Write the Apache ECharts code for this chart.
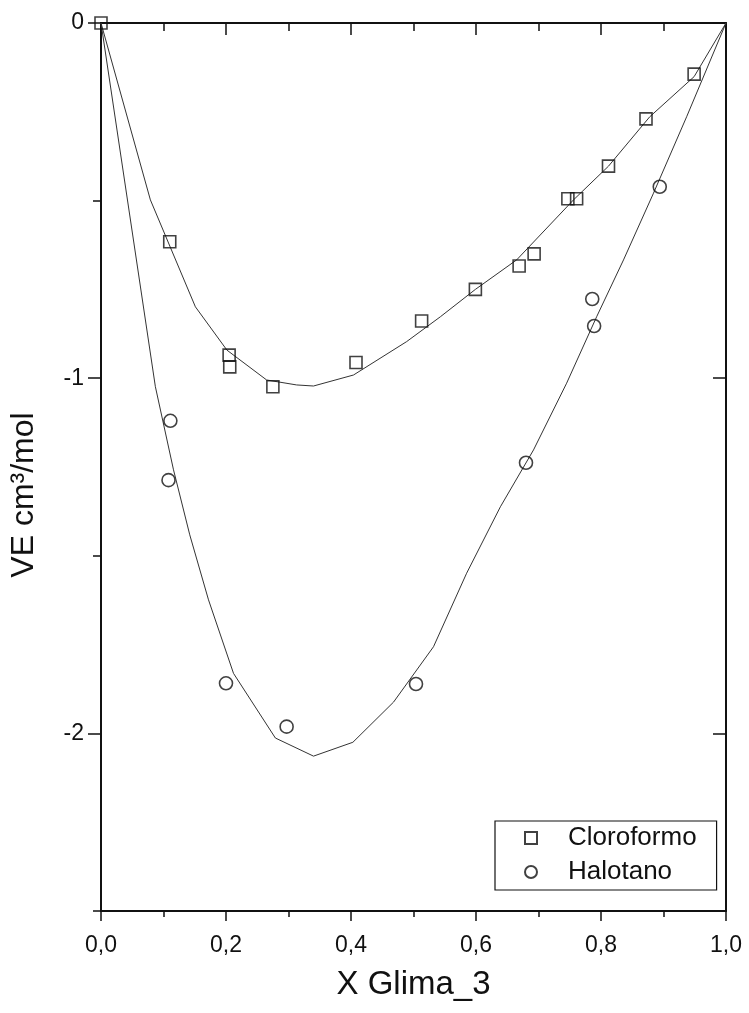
<!DOCTYPE html>
<html>
<head>
<meta charset="utf-8">
<script src="https://cdn.jsdelivr.net/npm/echarts@6/dist/echarts.min.js"></script>
<style>
  html, body { margin: 0; padding: 0; background: #fff; }
  #chart { width: 749px; height: 1013px; }
</style>
</head>
<body>
<div id="chart"></div>
<script>
// Measured excess molar volumes (VE, cm3/mol) vs mole fraction of Glima_3
const cloroformoX = [0, 0.110, 0.205, 0.206, 0.275, 0.408, 0.513, 0.599, 0.669, 0.693, 0.747, 0.761, 0.812, 0.872, 0.949];
const cloroformoY = [0, -0.616, -0.935, -0.968, -1.024, -0.956, -0.839, -0.750, -0.684, -0.650, -0.495, -0.495, -0.403, -0.270, -0.144];

const halotanoX = [0.111, 0.108, 0.200, 0.297, 0.504, 0.680, 0.786, 0.789, 0.894];
const halotanoY = [-1.120, -1.287, -1.859, -1.981, -1.861, -1.238, -0.777, -0.853, -0.461];

// Fitted curves (drawn as polylines)
const cloroformoFitX = [0, 0.079, 0.151, 0.2015, 0.265, 0.313, 0.340, 0.404, 0.489, 0.543, 0.599, 0.665, 0.756, 0.812, 0.878, 0.949, 1.0];
const cloroformoFitY = [0, -0.498, -0.799, -0.921, -1.005, -1.019, -1.022, -0.991, -0.897, -0.827, -0.750, -0.667, -0.498, -0.403, -0.264, -0.151, 0];

const halotanoFitX = [0, 0.087, 0.116, 0.142, 0.172, 0.212, 0.279, 0.340, 0.403, 0.468, 0.532, 0.585, 0.639, 0.692, 0.745, 0.793, 0.836, 0.884, 0.937, 1.0];
const halotanoFitY = [0, -1.024, -1.258, -1.441, -1.624, -1.831, -2.013, -2.064, -2.025, -1.912, -1.756, -1.549, -1.362, -1.202, -1.014, -0.827, -0.667, -0.479, -0.264, 0];

const xTicks = [0, 0.2, 0.4, 0.6, 0.8, 1.0];
const yMajorTicks = [0, -1, -2];
const yMinorTicks = [-0.5, -1.5, -2.5];

const zip = (xs, ys) => xs.map((x, i) => [x, ys[i]]);
const FONT = '"Liberation Sans", Arial, sans-serif';
const INK = '#111';

const chart = echarts.init(document.getElementById('chart'), null, { renderer: 'canvas' });

const lineStyle = { color: INK, width: 2 };

chart.setOption({
  animation: false,
  backgroundColor: '#fff',
  grid: { left: 101, right: 23, top: 23, bottom: 102 },
  legend: {
    data: ['Cloroformo', 'Halotano'],
    orient: 'vertical',
    left: 495,
    top: 821,
    padding: [2, 20, 3, 29],
    itemGap: 4,
    itemWidth: 12,
    itemHeight: 12,
    borderColor: INK,
    borderWidth: 1.2,
    borderRadius: 0,
    textStyle: {
      fontFamily: FONT, fontSize: 26, color: INK,
      lineHeight: 30, padding: [0, 0, 0, 26]
    }
  },
  xAxis: [
    {
      type: 'value', position: 'bottom', min: 0, max: 1, interval: 0.2,
      name: 'X Glima_3', nameLocation: 'middle', nameGap: 57,
      nameTextStyle: { fontFamily: FONT, fontSize: 33, color: INK },
      axisLine: { show: true, onZero: false, lineStyle },
      axisTick: { show: true, inside: false, length: 10, lineStyle: { color: INK, width: 1.5 } },
      minorTick: { show: true, splitNumber: 2, length: 6, lineStyle: { color: INK, width: 1.5 } },
      axisLabel: {
        margin: 23, fontFamily: FONT, fontSize: 23, color: INK,
        customValues: xTicks,
        formatter: v => v.toFixed(1).replace('.', ',')
      },
      splitLine: { show: false }
    },
    {
      type: 'value', position: 'top', min: 0, max: 1, interval: 0.2,
      axisLine: { show: true, onZero: false, lineStyle },
      axisTick: { show: true, inside: true, length: 12, lineStyle: { color: INK, width: 1.5 } },
      minorTick: { show: true, splitNumber: 2, length: 8, lineStyle: { color: INK, width: 1.5 } },
      axisLabel: { show: false },
      splitLine: { show: false }
    }
  ],
  yAxis: [
    {
      type: 'value', position: 'left', min: -2.5, max: 0, interval: 0.5,
      name: 'VE cm³/mol', nameLocation: 'middle', nameGap: 61, nameRotate: 90,
      nameTextStyle: { fontFamily: FONT, fontSize: 32, color: INK, padding: [0, 56, 0, 0] },
      axisLine: { show: true, onZero: false, lineStyle },
      axisTick: { show: true, inside: false, length: 13, customValues: yMajorTicks, lineStyle: { color: INK, width: 1.5 } },
      axisLabel: {
        margin: 17, fontFamily: FONT, fontSize: 23, color: INK,
        customValues: yMajorTicks,
        formatter: v => String(v)
      },
      splitLine: { show: false }
    },
    {
      type: 'value', position: 'left', min: -2.5, max: 0, interval: 0.5,
      axisLine: { show: false },
      axisTick: { show: true, inside: false, length: 5, customValues: yMinorTicks, lineStyle: { color: INK, width: 1.5 } },
      axisLabel: { show: false },
      splitLine: { show: false }
    },
    {
      type: 'value', position: 'right', min: -2.5, max: 0, interval: 0.5,
      axisLine: { show: true, onZero: false, lineStyle },
      axisTick: { show: true, inside: true, length: 13, customValues: yMajorTicks, lineStyle: { color: INK, width: 1.5 } },
      axisLabel: { show: false },
      splitLine: { show: false }
    },
    {
      type: 'value', position: 'right', min: -2.5, max: 0, interval: 0.5,
      axisLine: { show: false },
      axisTick: { show: true, inside: true, length: 8, customValues: yMinorTicks, lineStyle: { color: INK, width: 1.5 } },
      axisLabel: { show: false },
      splitLine: { show: false }
    }
  ],
  series: [
    {
      name: 'Cloroformo fit', type: 'line', xAxisIndex: 0, yAxisIndex: 0,
      data: zip(cloroformoFitX, cloroformoFitY),
      showSymbol: false, symbol: 'none', smooth: false,
      lineStyle: { color: '#333', width: 1 }, z: 2
    },
    {
      name: 'Halotano fit', type: 'line', xAxisIndex: 0, yAxisIndex: 0,
      data: zip(halotanoFitX, halotanoFitY),
      showSymbol: false, symbol: 'none', smooth: false,
      lineStyle: { color: '#333', width: 1 }, z: 2
    },
    {
      name: 'Cloroformo', type: 'scatter', xAxisIndex: 0, yAxisIndex: 0,
      data: zip(cloroformoX, cloroformoY),
      symbol: 'rect', symbolSize: 12, clip: false,
      itemStyle: { color: 'rgba(255,255,255,0)', borderColor: INK, borderWidth: 1.6 }, z: 3
    },
    {
      name: 'Halotano', type: 'scatter', xAxisIndex: 0, yAxisIndex: 0,
      data: zip(halotanoX, halotanoY),
      symbol: 'circle', symbolSize: 13, clip: false,
      itemStyle: { color: 'rgba(255,255,255,0)', borderColor: INK, borderWidth: 1.6 }, z: 3
    }
  ]
});
</script>
</body>
</html>
